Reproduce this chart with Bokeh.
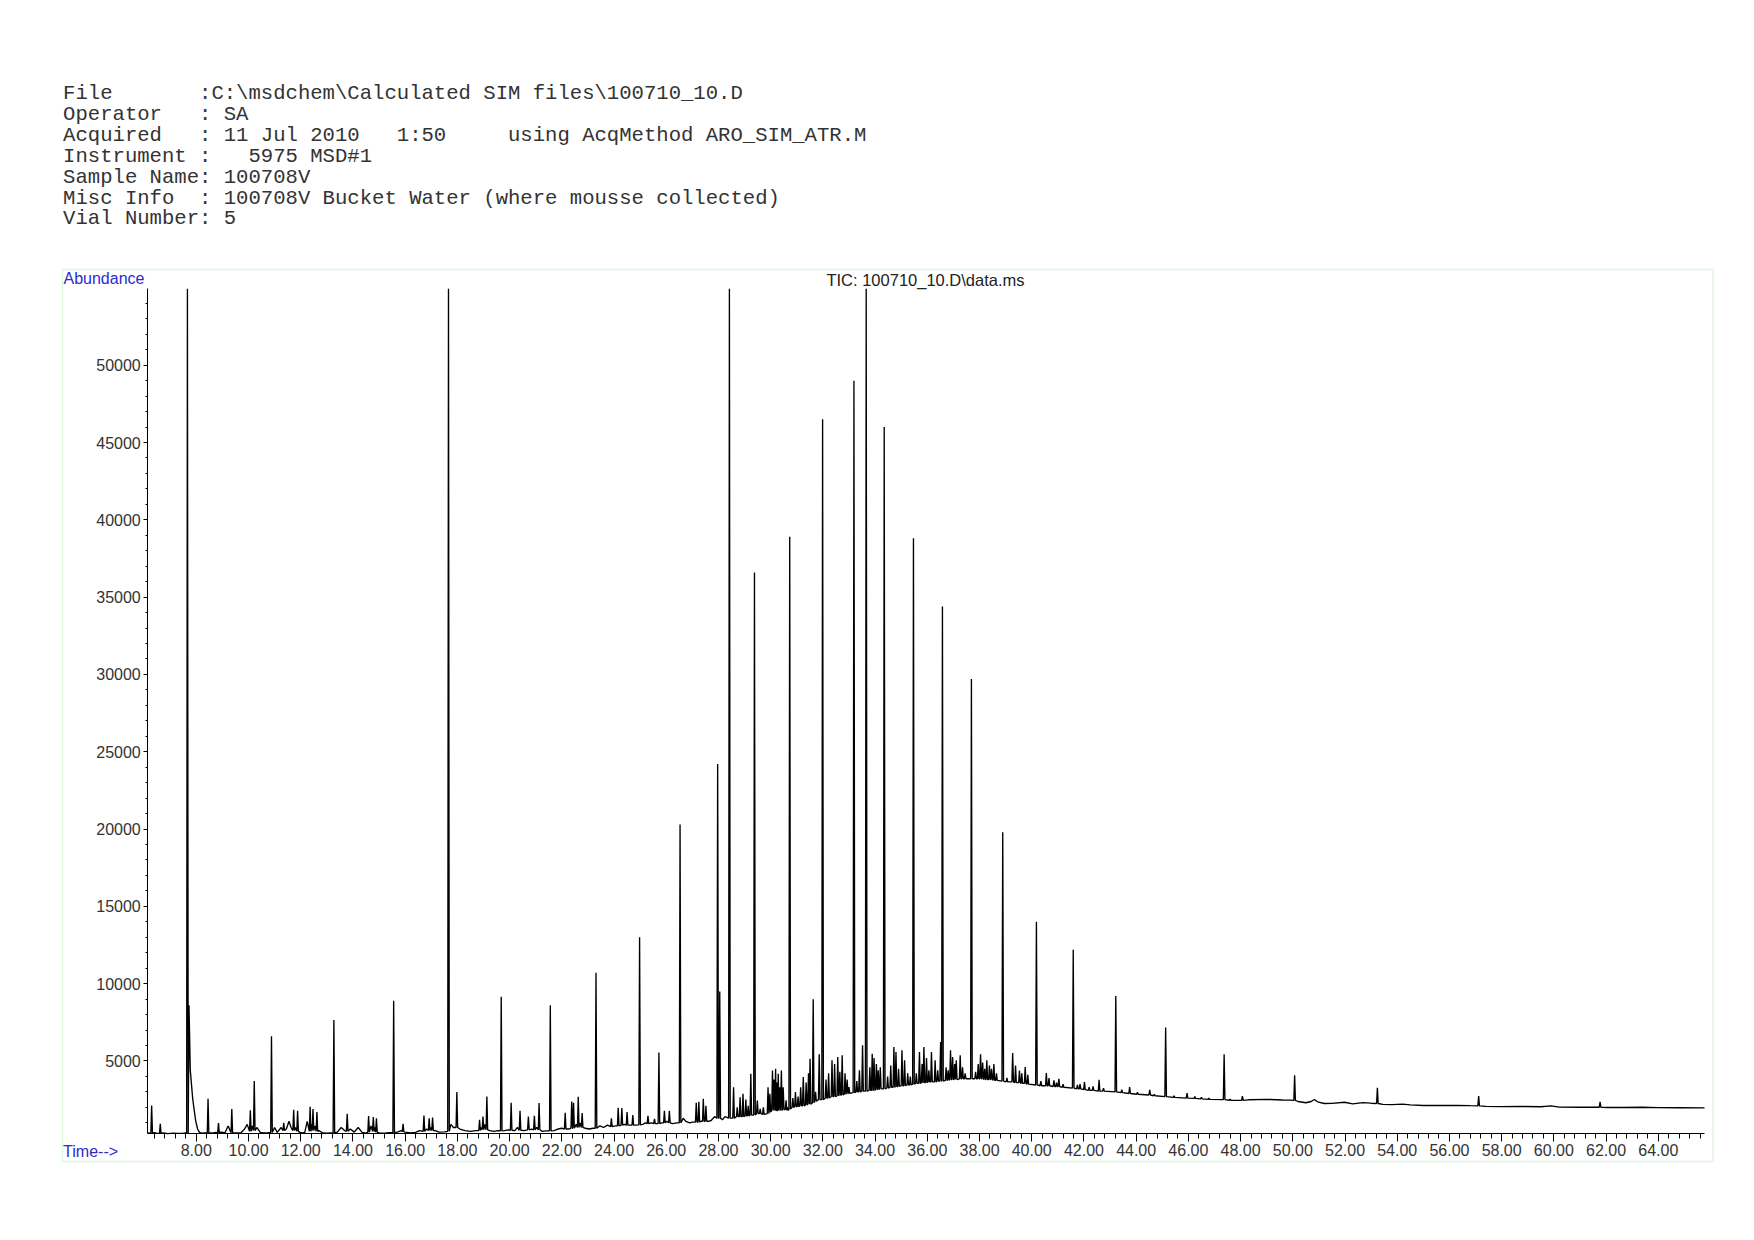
import re
from bokeh.plotting import figure
from bokeh.models import Range1d, FixedTicker, Label, BoxAnnotation, NumeralTickFormatter, ColumnDataSource
from bokeh.embed import file_html
from bokeh.resources import INLINE

# ---------------- data ----------------
header_lines = [
    r"File       :C:\msdchem\Calculated SIM files\100710_10.D",
    "Operator   : SA",
    "Acquired   : 11 Jul 2010   1:50     using AcqMethod ARO_SIM_ATR.M",
    "Instrument :   5975 MSD#1",
    "Sample Name: 100708V",
    "Misc Info  : 100708V Bucket Water (where mousse collected)",
    "Vial Number: 5",
]
title_text = r"TIC: 100710_10.D\data.ms"
y_label_text = "Abundance"
x_label_text = "Time-->"

x_major_ticks = [8, 10, 12, 14, 16, 18, 20, 22, 24, 26, 28, 30, 32, 34, 36, 38,
                 40, 42, 44, 46, 48, 50, 52, 54, 56, 58, 60, 62, 64]
y_major_ticks = [5000, 10000, 15000, 20000, 25000, 30000, 35000, 40000, 45000, 50000]

TIME_MIN, TIME_MAX = 6.14, 65.77      # extent of the time axis (min)
ABUND_MIN, ABUND_MAX = 298, 54940     # extent of the abundance axis
OFF = ABUND_MAX                       # off-scale peaks are drawn up to the top of the scale

# peaks: retention time (min), apex abundance, baseline under the peak
peak_t = [6.29, 6.62, 7.66, 8.45, 8.85, 9.36, 10.07, 10.22, 10.88, 11.35, 11.73, 11.88,
          12.36, 12.47, 12.62, 13.27, 13.78, 14.60, 14.78, 14.90, 15.56, 15.92, 16.72,
          16.92, 17.05, 17.66, 17.98, 18.85, 18.98, 19.13, 19.68, 20.06, 20.40, 20.72,
          20.95, 21.13, 21.56, 22.13, 22.38, 22.45, 22.63, 22.78, 23.31, 23.90, 24.16,
          24.30, 24.50, 24.72, 24.98, 25.30, 25.55, 25.72, 25.93, 26.12, 26.53, 27.15,
          27.25, 27.42, 27.52, 27.97, 28.05, 28.42,
          28.58, 28.72, 28.83, 28.94, 29.05, 29.14, 29.24, 29.38, 29.49, 29.60, 29.72,
          29.90, 29.97, 30.07, 30.13, 30.19, 30.24, 30.29, 30.35, 30.41, 30.48, 30.59,
          30.65, 30.73, 30.85, 30.95, 31.05, 31.15, 31.25, 31.36, 31.45, 31.51, 31.63,
          31.72, 31.86, 31.99, 32.12, 32.22, 32.35, 32.45, 32.57, 32.65, 32.74, 32.85,
          32.93, 33.00, 33.19, 33.30, 33.40, 33.52, 33.66, 33.80, 33.89, 33.96, 34.05,
          34.12, 34.20, 34.35, 34.48, 34.60, 34.72, 34.80, 34.90, 35.03, 35.13, 35.25,
          35.35, 35.47, 35.58, 35.70, 35.80, 35.87, 35.97, 36.06, 36.16, 36.30, 36.40,
          36.51, 36.58, 36.72, 36.80, 36.89, 36.97, 37.05, 37.11, 37.26, 37.35, 37.45,
          37.69, 37.85, 37.95, 38.04, 38.12, 38.20, 38.28, 38.38, 38.46, 38.55, 38.65,
          38.89, 39.05, 39.27, 39.38, 39.53, 39.62, 39.75, 39.85, 40.18, 40.35, 40.56,
          40.66, 40.85, 40.95, 41.04, 41.20, 41.59, 41.75, 41.85, 42.02, 42.20, 42.35,
          42.58, 42.75, 43.22, 43.45, 43.75, 44.05, 44.52, 44.70, 45.13, 45.45, 45.95,
          46.25, 46.50, 46.79, 47.37, 47.60, 48.07, 50.07, 53.24, 57.12, 61.77]
peak_h = [2120, 940, OFF, 2550, 980, 1900, 1820, 3700, 6600, 1000, 1850, 1780,
          2040, 1890, 1700, 7650, 1590, 1440, 1370, 1300, 8900, 940, 1480,
          1300, 1350, OFF, 3000, 1200, 1400, 2700, 9150, 2300, 1780, 1400,
          1450, 2280, 8600, 1650, 2380, 2300, 2680, 1630, 10700, 1300, 1970,
          1950, 1700, 1500, 13000, 1450, 1250, 5550, 1780, 1780, 20300, 2300,
          2360, 2550, 2100, 24200, 9500, OFF,
          3300, 2000, 2660, 2880, 2500, 2100, 4180, 36600, 2450, 1900, 2000,
          3300, 2880, 4390, 3800, 4500, 3600, 4180, 3300, 4390, 3300, 2450,
          2000, 38900, 2600, 3000, 2700, 3300, 3960, 3600, 4200, 5150, 9000,
          3000, 5430, 46500, 3800, 4200, 5040, 4800, 5260, 4300, 5370, 4200,
          3800, 3310, 49000, 3700, 4400, 6010, OFF, 4600, 5470, 5200, 4800,
          4400, 4600, 46000, 4000, 4700, 5900, 5580, 4500, 5690, 5040, 4200,
          4000, 38800, 4200, 5580, 4800, 5900, 5200, 4400, 5580, 5040, 4400,
          6230, 34400, 4600, 4400, 5690, 5260, 4800, 5040, 5370, 4600, 4200,
          29700, 4300, 4800, 5430, 4900, 4500, 5040, 4700, 4500, 4800, 4200,
          19800, 3900, 5520, 4700, 4390, 4200, 4610, 4100, 14000, 3700, 4220,
          3900, 3750, 3600, 3850, 3500, 12200, 3450, 3500, 3640, 3300, 3350,
          3790, 3250, 9200, 3150, 3310, 2980, 3140, 2850, 7160, 2750, 2920,
          2700, 2650, 2600, 5430, 2530, 2730, 4070, 3260, 2730, 2360]
peak_base = [340, 330, 340, 340, 360, 360, 450, 500, 380, 500, 500, 450,
             450, 500, 450, 350, 450, 400, 450, 400, 360, 420, 450,
             500, 500, 450, 700, 500, 550, 550, 480, 520, 520, 550,
             550, 550, 480, 600, 650, 650, 700, 700, 650, 750, 800,
             850, 850, 850, 870, 950, 950, 950, 1000, 1000, 1000, 1050,
             1050, 1100, 1100, 1300, 1300, 1300,
             1300, 1400, 1400, 1400, 1450, 1450, 1500, 1500, 1600, 1600, 1550,
             1600, 1700, 1800, 1800, 1800, 1800, 1800, 1800, 1800, 1850, 1850,
             1800, 1900, 2000, 2050, 2050, 2100, 2100, 2150, 2200, 2200, 2300,
             2400, 2500, 2500, 2600, 2600, 2700, 2700, 2750, 2800, 2800, 2850,
             2900, 2900, 2950, 3000, 3000, 3050, 3050, 3100, 3100, 3100, 3150,
             3150, 3200, 3200, 3250, 3300, 3300, 3350, 3350, 3400, 3400, 3450,
             3450, 3500, 3550, 3550, 3600, 3600, 3600, 3650, 3650, 3650, 3700,
             3700, 3700, 3750, 3750, 3800, 3800, 3800, 3800, 3850, 3850, 3850,
             3850, 3850, 3850, 3850, 3850, 3800, 3800, 3800, 3800, 3750, 3750,
             3700, 3650, 3650, 3600, 3600, 3550, 3550, 3500, 3450, 3400, 3400,
             3400, 3350, 3350, 3350, 3300, 3250, 3200, 3200, 3150, 3100, 3100,
             3050, 3050, 3000, 2950, 2900, 2850, 2800, 2750, 2700, 2650, 2600,
             2580, 2550, 2520, 2500, 2460, 2450, 2450, 2250, 2100, 2010]

# baseline / broad features between the peaks
noise_t = [6.14, 6.20, 6.40, 6.50, 6.75, 6.90, 7.10, 7.30, 7.50, 7.60,
           7.72, 7.77, 7.81, 7.86, 7.92, 7.98, 8.05, 8.12, 8.20, 8.32, 8.60, 8.75,
           8.95, 9.10, 9.22, 9.50, 9.70, 9.85, 9.95, 10.15, 10.32, 10.45, 10.60,
           10.75, 11.00, 11.10, 11.25, 11.45, 11.55, 11.63, 11.80, 11.97, 12.15,
           12.25, 12.42, 12.55, 12.70, 12.85, 13.00, 13.15, 13.40, 13.55, 13.68,
           13.90, 14.05, 14.20, 14.35, 14.50, 14.69, 14.84, 15.00, 15.20, 15.40,
           15.70, 15.85, 16.00, 16.20, 16.40, 16.55, 16.82, 16.98, 17.15, 17.30,
           17.50, 17.75, 17.85, 18.10, 18.30, 18.50, 18.70, 18.92, 19.05, 19.25,
           19.40, 19.55, 19.80, 19.95, 20.20, 20.30, 20.55, 20.85, 21.04, 21.25,
           21.40, 21.70, 21.85, 22.00, 22.25, 22.55, 22.70, 22.90, 23.05, 23.20,
           23.45, 23.60, 23.75, 24.05, 24.40, 24.60, 24.85, 25.10, 25.20, 25.42,
           25.64, 25.82, 26.02, 26.25, 26.40, 26.65, 26.75, 26.90, 27.00, 27.33,
           27.62, 27.72, 27.85, 28.15, 28.25, 28.50,
           48.30, 49.00, 49.60, 49.90, 50.20, 50.50, 50.70, 50.83, 50.95, 51.20,
           51.50, 51.98, 52.30, 52.68, 53.00, 53.45, 53.80, 54.20, 54.50, 55.00,
           55.60, 56.30, 56.80, 57.40, 58.00, 58.80, 59.50, 59.89, 60.20, 61.00,
           61.50, 62.10, 62.60, 63.39, 64.00, 64.80, 65.77]
noise_v = [350, 330, 370, 320, 350, 300, 330, 320, 330, 340,
           8600, 4400, 3600, 2600, 1800, 1100, 600, 380, 330, 340, 340, 380,
           400, 360, 800, 350, 340, 600, 900, 800, 700, 380, 350,
           360, 700, 380, 700, 600, 1100, 700, 700, 380, 350,
           1100, 900, 800, 500, 340, 330, 350, 400, 700, 500,
           600, 400, 700, 380, 340, 800, 700, 350, 330, 360,
           400, 500, 400, 350, 380, 500, 600, 700, 500, 400,
           420, 900, 700, 600, 500, 450, 500, 700, 900, 500,
           450, 500, 500, 550, 500, 700, 500, 600, 700, 450,
           480, 500, 600, 650, 600, 900, 1000, 650, 600, 650,
           800, 700, 850, 800, 900, 850, 850, 900, 1000, 1000,
           950, 1000, 1100, 950, 1000, 1300, 1100, 1000, 1050, 1100,
           1100, 1150, 1400, 1200, 1400, 1300,
           2490, 2520, 2480, 2470, 2380, 2300, 2380, 2510, 2360, 2250,
           2260, 2330, 2230, 2310, 2270, 2190, 2180, 2210, 2160, 2120,
           2120, 2130, 2110, 2060, 2050, 2060, 2040, 2100, 2020, 2010,
           2010, 1990, 1990, 2010, 1985, 1975, 1970]

# ---------------- build trace ----------------
HW = 0.03  # half width of a peak (min), drawing style
pts = list(zip(noise_t, noise_v))
for t, h, b in zip(peak_t, peak_h, peak_base):
    pts += [(t - HW, b), (t, h), (t + HW, b)]
pts.sort()
src = ColumnDataSource(data=dict(t=[q[0] for q in pts], a=[q[1] for q in pts]))

# ---------------- layout: frame = whole canvas, page pixel <-> data ----------------
W, H = 1740, 1220
PX_X8, PX_PER_MIN = 195.8, 26.107          # page x of t=8, px per minute
PX_Y50K, PX_PER_UNIT = 364.7, 0.015462     # page y of 50000, px per abundance unit

def dx(px):   # page x -> time
    return 8 + (px - PX_X8) / PX_PER_MIN

def dy(py):   # page y -> abundance
    return 50000 - (py - PX_Y50K) / PX_PER_UNIT

def keep_spaces(s):  # SVG collapses runs of spaces: keep the fixed-width columns
    return re.sub(r" {2,}", lambda m: "\u00a0" * len(m.group(0)), s)

p = figure(width=W, height=H, output_backend="svg", toolbar_location=None,
           x_range=Range1d(dx(0), dx(W)), y_range=Range1d(dy(H), dy(0)),
           min_border=0, min_border_left=0, min_border_right=0,
           min_border_top=0, min_border_bottom=0)
p.outline_line_color = None
p.grid.visible = False
p.background_fill_color = "white"
p.border_fill_color = "white"

# green frame around the chart
p.add_layout(BoxAnnotation(left=dx(62), right=dx(1712.6), top=dy(269), bottom=dy(1161),
                           fill_alpha=0, line_color="#90e090", line_width=1.3))

p.line("t", "a", source=src, line_color="black", line_width=1.35)

minor_x = [round(6.4 + 0.4 * i, 2) for i in range(149)]
p.xaxis.ticker = FixedTicker(ticks=x_major_ticks, minor_ticks=minor_x)
p.xaxis.formatter = NumeralTickFormatter(format="0.00")
p.xaxis.fixed_location = ABUND_MIN
p.xaxis.bounds = (TIME_MIN, TIME_MAX)
p.yaxis.ticker = FixedTicker(ticks=y_major_ticks,
                             minor_ticks=[1000 * i for i in range(1, 55)])
p.yaxis.formatter = NumeralTickFormatter(format="0")
p.yaxis.fixed_location = TIME_MIN
p.yaxis.bounds = (ABUND_MIN, ABUND_MAX)
for ax in (p.xaxis[0], p.yaxis[0]):
    ax.axis_line_color = "black"
    ax.major_tick_line_color = "black"
    ax.minor_tick_line_color = "black"
    ax.major_tick_in = 0
    ax.minor_tick_in = 0
    ax.major_label_text_font = "Liberation Sans"
    ax.major_label_text_font_size = "16px"
    ax.major_label_text_color = "#333333"
p.xaxis.major_tick_out = 8
p.xaxis.minor_tick_out = 5
p.xaxis.major_label_standoff = 2
p.yaxis.major_tick_out = 4
p.yaxis.minor_tick_out = 2
p.yaxis.major_label_standoff = 3

for i, line in enumerate(header_lines):
    p.add_layout(Label(x=dx(62.6), y=dy(93 + 20.9 * i), text=keep_spaces(line),
                       text_font="Liberation Mono", text_font_size="20.6px",
                       text_color="#333333", text_baseline="middle", text_align="left"))

p.add_layout(Label(x=dx(63), y=dy(278), text=y_label_text, text_font="Liberation Sans",
                   text_font_size="16px", text_color="#2b2bd0",
                   text_baseline="middle", text_align="left"))
p.add_layout(Label(x=dx(62.6), y=dy(1151), text=x_label_text, text_font="Liberation Sans",
                   text_font_size="16px", text_color="#2b2bd0",
                   text_baseline="middle", text_align="left"))
p.add_layout(Label(x=dx(925), y=dy(279.6), text=title_text, text_font="Liberation Sans",
                   text_font_size="16.5px", text_color="#222222",
                   text_baseline="middle", text_align="center"))

open("out.html", "w").write(file_html(p, INLINE))
